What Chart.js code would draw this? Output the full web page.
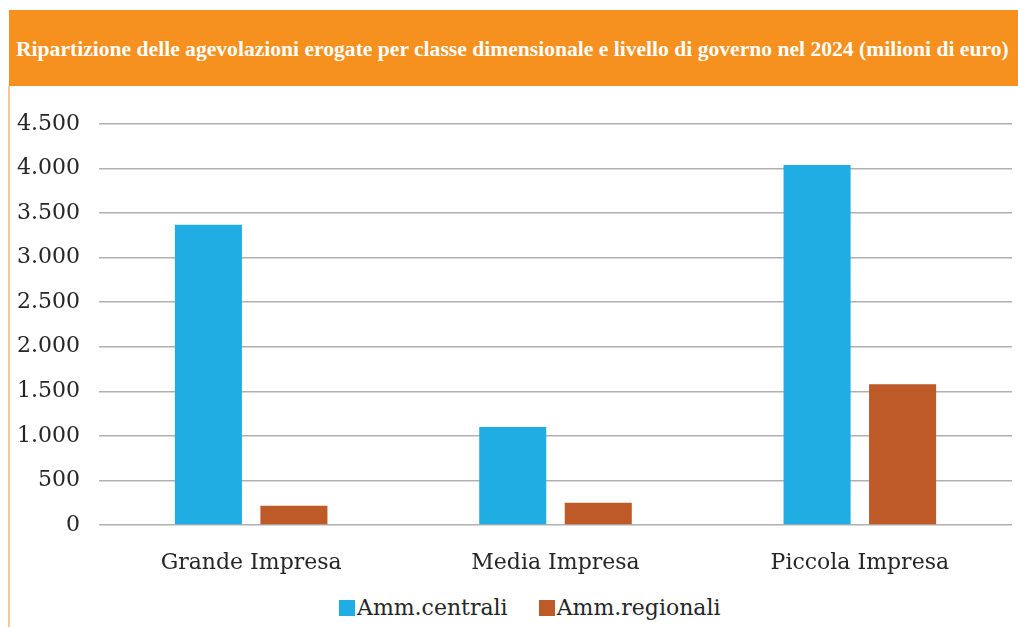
<!DOCTYPE html>
<html lang="it">
<head>
<meta charset="utf-8">
<script src="https://cdn.jsdelivr.net/npm/chart.js@4.4.1/dist/chart.umd.min.js"></script>
<style>
  html, body { margin: 0; padding: 0; background: #fff; }
  body { width: 1018px; height: 627px; position: relative; overflow: hidden; }
  #header {
    position: absolute; left: 9px; top: 10px; width: 1009px; height: 76px;
    background: #f6901e; color: #fff;
    font: bold 21.6px "Liberation Serif", serif;
    line-height: 78px; padding-left: 7px; box-sizing: border-box; white-space: nowrap;
  }
  #edge { position: absolute; left: 8px; top: 86px; width: 2px; height: 541px; background: #f9c591; }
  #wrap { position: absolute; left: 0; top: 86px; width: 1018px; height: 500px; }
  #legend {
    position: absolute; left: 339px; top: 595px; display: flex; align-items: center;
    font: 22px "DejaVu Serif", serif; color: #262626;
  }
  #legend .item { display: flex; align-items: center; margin-right: 31px; }
  #legend .box { width: 16px; height: 16px; margin-right: 2px; }
</style>
</head>
<body>
<div id="header">Ripartizione delle agevolazioni erogate per classe dimensionale e livello di governo nel 2024 (milioni di euro)</div>
<div id="edge"></div>
<div id="wrap"><canvas id="chart"></canvas></div>
<div id="legend"></div>
<script>
// Classi dimensionali e importi (milioni di euro)
const categories = ['Grande Impresa', 'Media Impresa', 'Piccola Impresa'];
const centrali = [3370, 1100, 4040];
const regionali = [215, 250, 1580];
const seriesNames = ['Amm.centrali', 'Amm.regionali'];
const seriesColors = ['#1fade4', '#bd5a28'];

const fmt = v => String(v).replace(/\B(?=(\d{3})+(?!\d))/g, '.');

const datasets = [centrali, regionali].map((values, i) => ({
  label: seriesNames[i],
  data: values,
  backgroundColor: seriesColors[i],
  barPercentage: 0.784,
  categoryPercentage: 0.562,
}));

const chart = new Chart(document.getElementById('chart'), {
  type: 'bar',
  data: { labels: categories, datasets },
  options: {
    responsive: true,
    maintainAspectRatio: false,
    animation: false,
    layout: { padding: { top: 38, right: 6, bottom: 0, left: 0 } },
    plugins: { legend: { display: false }, tooltip: { enabled: false } },
    scales: {
      x: {
        grid: { display: false },
        border: { display: false },
        ticks: { color: '#262626', font: { family: 'DejaVu Serif', size: 22 }, padding: 17 },
        afterFit: s => { s.height = 61; }
      },
      y: {
        min: 0, max: 4500,
        grid: { color: '#b0b0b0', lineWidth: 1.5, drawTicks: false },
        border: { display: false },
        ticks: {
          stepSize: 500,
          color: '#262626',
          font: { family: 'DejaVu Serif', size: 22 },
          padding: 19,
          callback: v => fmt(v)
        },
        afterFit: s => { s.width = 99; }
      }
    }
  }
});

// Legenda sotto il grafico
const legend = document.getElementById('legend');
chart.data.datasets.forEach(ds => {
  const item = document.createElement('div');
  item.className = 'item';
  const box = document.createElement('span');
  box.className = 'box';
  box.style.background = ds.backgroundColor;
  const txt = document.createElement('span');
  txt.textContent = ds.label;
  item.appendChild(box);
  item.appendChild(txt);
  legend.appendChild(item);
});
</script>
</body>
</html>
